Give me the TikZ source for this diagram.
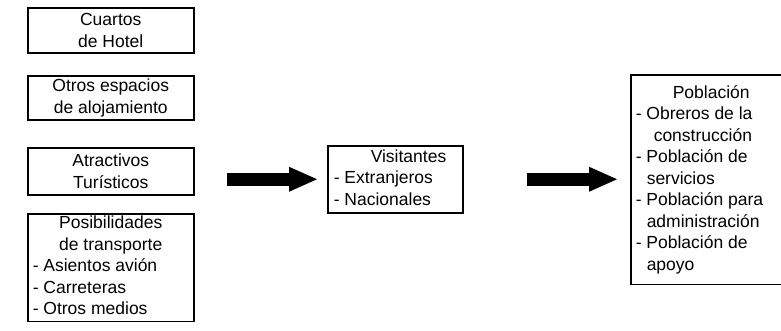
\documentclass[tikz,border=0pt]{standalone}
\usepackage{fontspec}
\setmainfont{Liberation Sans}
\usetikzlibrary{arrows.meta}

\begin{document}
\begin{tikzpicture}[x=1pt, y=-1pt,
    box/.style={rectangle, draw, line width=1.5pt, inner sep=0pt, anchor=north west,
        align=center, font=\fontsize{17.5}{21.5}\selectfont},
    flow/.style={line width=13pt, -{Triangle[length=28pt, width=25pt, line width=0pt]}}
]
\useasboundingbox (0,0) rectangle (781,330);
\clip (0,0) rectangle (781,330);

% Nodes
\node[box, minimum width=166pt, minimum height=45pt] (v0) at (27,7) {Cuartos\\de Hotel};
\node[box, minimum width=166pt, minimum height=44pt] (v1) at (27,75) {Otros espacios\\de alojamiento};
\node[box, minimum width=166pt, minimum height=47pt] (v2) at (27,147) {Atractivos\\Tur\'isticos};
\node[box, minimum width=166pt, minimum height=107pt] (v3) at (27,213) {%
    \begin{tabular}{@{\hspace{5pt}}p{161pt}@{}}
    \multicolumn{1}{@{}c@{}}{Posibilidades}\\
    \multicolumn{1}{@{}c@{}}{de transporte}\\
    - Asientos avi\'on\\
    - Carreteras\\
    - Otros medios
    \end{tabular}};
\node[box, minimum width=135pt, minimum height=67pt] (v4) at (327,145) {%
    \begin{tabular}{@{\hspace{6pt}}p{129pt}@{}}
    \hspace*{37pt}Visitantes\\
    - Extranjeros\\
    - Nacionales
    \end{tabular}};
% cut off on the right in the source
\node[box, draw=none, minimum width=210pt, minimum height=208pt] (v5) at (631,75) {%
    \begin{tabular}{@{\hspace{4pt}}p{206pt}@{}}
    \hspace*{37pt}Poblaci\'on\\
    - Obreros de la\\
    \hspace*{18pt}construcci\'on\\
    - Poblaci\'on de\\
    \hspace*{11pt}servicios\\
    - Poblaci\'on para\\
    \hspace*{11pt}administraci\'on\\
    - Poblaci\'on de\\
    \hspace*{11pt}apoyo
    \end{tabular}};
\draw[line width=1.5pt] (v5.north east) -- (v5.north west) -- (v5.south west) -- (v5.south east);

% Arrows
\draw[flow, shorten <=32pt, shorten >=10pt] (v2.east |- v4.west) -- (v4.west);
\draw[flow, shorten <=63pt, shorten >=14pt] (v4.east) -- (v5.west |- v4.east);

\end{tikzpicture}
\end{document}
